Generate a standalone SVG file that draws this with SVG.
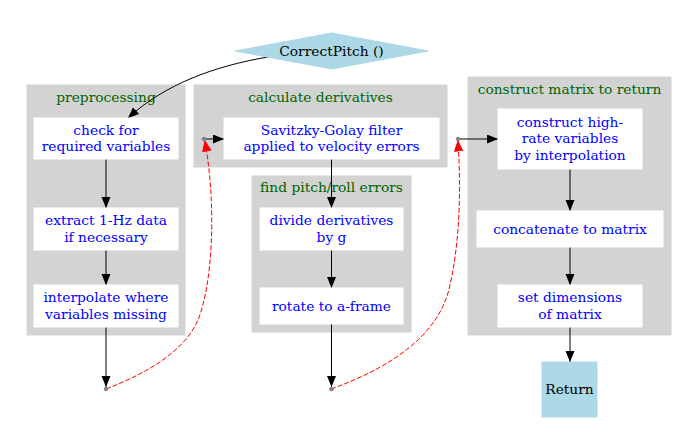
<svg xmlns="http://www.w3.org/2000/svg" width="696" height="448" viewBox="0 0 696 448">
<defs>
<marker id="ah" markerUnits="userSpaceOnUse" markerWidth="12" markerHeight="10" refX="11" refY="4.5" orient="auto">
<path d="M0,0 L11,4.5 L0,9 Z" fill="#000"/>
</marker>
<marker id="ahr" markerUnits="userSpaceOnUse" markerWidth="12" markerHeight="10" refX="10.5" refY="4.5" orient="auto">
<path d="M0.5,0.5 L10.5,4.5 L0.5,8.5 Z" fill="#ff0000" stroke="#ff0000" stroke-width="1"/>
</marker>
</defs>
<style>
text{font-family:"DejaVu Serif","Liberation Serif",serif;font-size:13.8px;text-anchor:middle}
.cl{fill:#d3d3d3;stroke:#d3d3d3}
.clt{fill:#006400}
.bx{fill:#fff;stroke:#fff}
.bt{fill:#0000ff}
.lb{fill:#add8e6;stroke:#add8e6}
.kt{fill:#000}
.e{fill:none;stroke:#000;stroke-width:1}
.r{fill:none;stroke:#ff0000;stroke-width:1;stroke-dasharray:5,2}
.pt{fill:#808080;stroke:#808080}
</style>
<rect width="696" height="448" fill="#fff"/>
<g id="clusters">
<g id="cluster_pre"><rect class="cl" x="27" y="85" width="158" height="250"/><text class="clt" x="106" y="102">preprocessing</text></g>
<g id="cluster_deriv"><rect class="cl" x="194" y="85" width="253" height="82"/><text class="clt" x="320.5" y="102">calculate derivatives</text></g>
<g id="cluster_pitch"><rect class="cl" x="252" y="176" width="159" height="156"/><text class="clt" x="331.5" y="192">find pitch/roll errors</text></g>
<g id="cluster_matrix"><rect class="cl" x="468" y="77" width="203" height="258"/><text class="clt" x="569.5" y="94">construct matrix to return</text></g>
</g>
<g id="connectors">
<path class="e" d="M268,57 C215,66 165,84 128,118" marker-end="url(#ah)"/>
<path class="e" d="M106,159 L106,208" marker-end="url(#ah)"/>
<path class="e" d="M106,250 L106,285" marker-end="url(#ah)"/>
<path class="e" d="M106,327 L106,387" marker-end="url(#ah)"/>
<path class="e" d="M204,139 L224,139" marker-end="url(#ah)"/>
<path class="e" d="M331.5,159 L331.5,208" marker-end="url(#ah)"/>
<path class="e" d="M331.5,250 L331.5,288" marker-end="url(#ah)"/>
<path class="e" d="M331.5,324 L331.5,387" marker-end="url(#ah)"/>
<path class="e" d="M458,139 L498,139" marker-end="url(#ah)"/>
<path class="e" d="M570,169 L570,211" marker-end="url(#ah)"/>
<path class="e" d="M570,247 L570,285" marker-end="url(#ah)"/>
<path class="e" d="M570,327 L570,362" marker-end="url(#ah)"/>
<path class="r" d="M106,389 C150,372 185,350 198,320 C212,285 217,210 205,141" marker-end="url(#ahr)"/>
<path class="r" d="M331,389 C390,368 440,335 450,285 C460,240 461,190 458,141" marker-end="url(#ahr)"/>
</g>
<g id="start"><polygon class="lb" points="235,51 331.5,33 428,51 331.5,69"/><text class="kt" x="331.5" y="56">CorrectPitch ()</text></g>
<g id="check"><rect class="bx" x="34" y="118" width="144" height="41"/><text class="bt" x="106" y="134.5">check for</text><text class="bt" x="106" y="151.3">required variables</text></g>
<g id="extract"><rect class="bx" x="34" y="208" width="144" height="42"/><text class="bt" x="106" y="225">extract 1-Hz data</text><text class="bt" x="106" y="241.8">if necessary</text></g>
<g id="interp"><rect class="bx" x="34" y="285" width="144" height="42"/><text class="bt" x="106" y="302">interpolate where</text><text class="bt" x="106" y="318.8">variables missing</text></g>
<g id="pt1"><circle class="pt" cx="106" cy="389" r="1.8"/></g>
<g id="pta"><circle class="pt" cx="204" cy="139" r="1.8"/></g>
<g id="savgol"><rect class="bx" x="224" y="118" width="215" height="41"/><text class="bt" x="331.5" y="134.5">Savitzky-Golay filter</text><text class="bt" x="331.5" y="151.3">applied to velocity errors</text></g>
<g id="divide"><rect class="bx" x="260" y="208" width="143" height="42"/><text class="bt" x="331.5" y="225">divide derivatives</text><text class="bt" x="331.5" y="241.8">by g</text></g>
<g id="rotate"><rect class="bx" x="260" y="288" width="143" height="36"/><text class="bt" x="331.5" y="310.5">rotate to a-frame</text></g>
<g id="pt2"><circle class="pt" cx="331.5" cy="389" r="1.8"/></g>
<g id="ptb"><circle class="pt" cx="458" cy="139" r="1.8"/></g>
<g id="construct"><rect class="bx" x="498" y="109" width="144" height="60"/><text class="bt" x="570" y="126.5">construct high-</text><text class="bt" x="570" y="143.3">rate variables</text><text class="bt" x="570" y="160.1">by interpolation</text></g>
<g id="concat"><rect class="bx" x="477" y="211" width="186" height="36"/><text class="bt" x="570" y="233.5">concatenate to matrix</text></g>
<g id="setdim"><rect class="bx" x="498" y="285" width="144" height="42"/><text class="bt" x="570" y="302">set dimensions</text><text class="bt" x="570" y="318.8">of matrix</text></g>
<g id="ret"><rect class="lb" x="542" y="362" width="55" height="55"/><text class="kt" x="569.5" y="394">Return</text></g>
</svg>
